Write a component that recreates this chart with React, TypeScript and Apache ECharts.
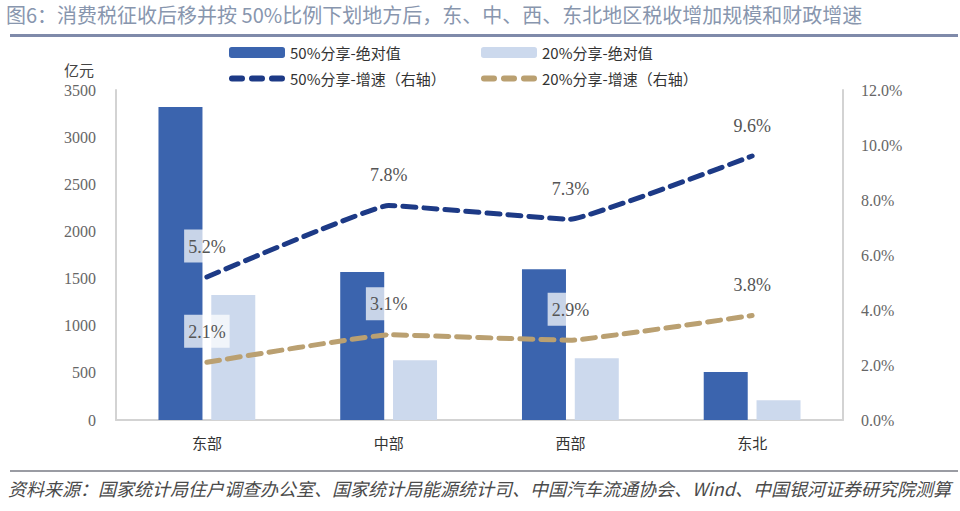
import React, { useEffect, useRef } from "react";
import * as echarts from "echarts";

const categories = ["东部", "中部", "西部", "东北"];
const abs50 = [3320, 1570, 1600, 510];
const abs20 = [1325, 635, 655, 210];
const growth50 = [5.2, 7.8, 7.3, 9.6];
const growth20 = [2.1, 3.1, 2.9, 3.8];
const leftTicks = { min: 0, max: 3500, interval: 500 };
const rightTicks = { min: 0, max: 12, interval: 2 };

const title = "图6：消费税征收后移并按 50%比例下划地方后，东、中、西、东北地区税收增加规模和财政增速";
const source = "资料来源：国家统计局住户调查办公室、国家统计局能源统计司、中国汽车流通协会、Wind、中国银河证券研究院测算";

const C_DARK = "#3b64ae";
const C_LIGHT = "#ccd9ed";
const C_NAVY = "#1d3a86";
const C_TAN = "#baa071";
const SERIF = "'Liberation Serif', 'Noto Sans CJK SC', serif";
const CJK = "'Noto Sans CJK SC', sans-serif";
const DASH_ICON =
  "path://M3,0h10a3,3 0 0 1 0,6h-10a3,3 0 0 1 0,-6z M23,0h10a3,3 0 0 1 0,6h-10a3,3 0 0 1 0,-6z M43,0h10a3,3 0 0 1 0,6h-10a3,3 0 0 1 0,-6z";

export default function App() {
  const ref = useRef<HTMLDivElement>(null);
  useEffect(() => {
    if (!ref.current) return;
    const chart = echarts.init(ref.current, undefined, { renderer: "svg" });
    const lbl = {
      show: true,
      position: "top",
      distance: 14,
      formatter: (p: any) => Number(p.value).toFixed(1) + "%",
      fontFamily: SERIF,
      fontSize: 18,
      color: "#555",
      backgroundColor: "rgba(255,255,255,0.72)",
      padding: [8, 4, 7, 4],
    };
    const legendBase = {
      itemWidth: 56,
      itemHeight: 11,
      textStyle: { fontFamily: CJK, fontSize: 15, color: "#333" },
      itemGap: 6,
    };
    chart.setOption({
      animation: false,
      backgroundColor: "#fff",
      grid: { left: 116, right: 117, top: 90, bottom: 91 },
      legend: [
        { ...legendBase, data: ["50%分享-绝对值"], left: 224, top: 40 },
        { ...legendBase, data: ["20%分享-绝对值"], left: 476, top: 40 },
        { ...legendBase, itemHeight: 6, data: [{ name: "50%分享-增速（右轴）", icon: DASH_ICON }], left: 224, top: 66 },
        { ...legendBase, itemHeight: 6, data: [{ name: "20%分享-增速（右轴）", icon: DASH_ICON }], left: 476, top: 66 },
      ],
      graphic: [
        {
          type: "text",
          left: 6,
          top: 4,
          style: { text: title, fontFamily: CJK, fontSize: 20, fill: "#8896ae" },
        },
        {
          type: "rect",
          shape: { x: 10, y: 34, width: 948, height: 3 },
          style: { fill: "#7f8aaa" },
        },
        {
          type: "rect",
          shape: { x: 10, y: 470, width: 948, height: 2 },
          style: { fill: "#9a9ca3" },
        },
        {
          type: "text",
          left: 8,
          top: 479,
          style: { text: source, fontFamily: CJK, fontSize: 18, fill: "#4a4a4a", fontStyle: "italic" },
        },
        {
          type: "text",
          left: 64,
          top: 62,
          style: { text: "亿元", fontFamily: CJK, fontSize: 15, fill: "#444" },
        },
      ],
      xAxis: {
        type: "category",
        data: categories,
        axisLine: { lineStyle: { color: "#d3d3d3", width: 2 } },
        axisTick: { show: false },
        axisLabel: { fontFamily: CJK, fontSize: 15, color: "#333", margin: 15 },
      },
      yAxis: [
        {
          type: "value",
          ...leftTicks,
          axisLine: { show: true, lineStyle: { color: "#d3d3d3", width: 2 } },
          axisTick: { show: false },
          splitLine: { show: false },
          axisLabel: { fontFamily: SERIF, fontSize: 16, color: "#666", margin: 20, formatter: (v: number) => String(v) },
        },
        {
          type: "value",
          ...rightTicks,
          position: "right",
          axisLine: { show: true, lineStyle: { color: "#d3d3d3", width: 2 } },
          axisTick: { show: false },
          splitLine: { show: false },
          axisLabel: {
            fontFamily: SERIF,
            fontSize: 16,
            color: "#666",
            margin: 18,
            formatter: (v: number) => v.toFixed(1) + "%",
          },
        },
      ],
      series: [
        {
          name: "50%分享-绝对值",
          type: "bar",
          data: abs50,
          barWidth: 44,
          barGap: "20%",
          itemStyle: { color: C_DARK },
        },
        {
          name: "20%分享-绝对值",
          type: "bar",
          data: abs20,
          barWidth: 44,
          itemStyle: { color: C_LIGHT },
        },
        {
          name: "50%分享-增速（右轴）",
          type: "line",
          yAxisIndex: 1,
          data: growth50,
          symbol: "circle",
          symbolSize: 1,
          showSymbol: true,
          smooth: 0.08,
          lineStyle: { color: C_NAVY, width: 5, type: [13, 8], cap: "round" },
          itemStyle: { color: C_NAVY },
          label: lbl,
          z: 5,
        },
        {
          name: "20%分享-增速（右轴）",
          type: "line",
          yAxisIndex: 1,
          data: growth20,
          symbol: "circle",
          symbolSize: 1,
          showSymbol: true,
          smooth: 0.08,
          lineStyle: { color: C_TAN, width: 5, type: [13, 8], cap: "round" },
          itemStyle: { color: C_TAN },
          label: lbl,
          z: 5,
        },
      ],
    });
    return () => chart.dispose();
  }, []);
  return <div ref={ref} style={{ width: 960, height: 511, position: "absolute", left: 0, top: 0 }} />;
}
